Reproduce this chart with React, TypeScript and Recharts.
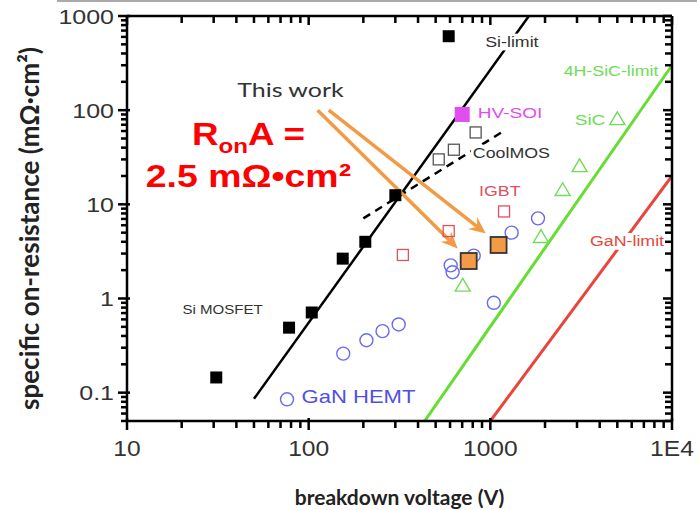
import React from 'react';
import { ScatterChart, Scatter, XAxis, YAxis, ReferenceLine, ReferenceDot } from 'recharts';

// ---------- data (breakdown voltage V, specific on-resistance mOhm·cm²) ----------
const siMosfet = [
  { v: 31, r: 0.145 }, { v: 78, r: 0.49 }, { v: 104, r: 0.71 }, { v: 154, r: 2.65 },
  { v: 205, r: 4.0 }, { v: 300, r: 12.5 }, { v: 590, r: 610 },
];
const hvSoi = [{ v: 700, r: 90 }];
const coolMos = [{ v: 520, r: 30 }, { v: 630, r: 38 }, { v: 830, r: 58 }];
const igbt = [{ v: 330, r: 2.9 }, { v: 590, r: 5.2 }, { v: 1190, r: 8.4 }];
const ganHemt = [
  { v: 76, r: 0.085 }, { v: 155, r: 0.26 }, { v: 208, r: 0.36 }, { v: 255, r: 0.45 },
  { v: 313, r: 0.53 }, { v: 605, r: 2.25 }, { v: 620, r: 1.9 }, { v: 810, r: 2.85 },
  { v: 1045, r: 0.9 }, { v: 1310, r: 5.0 }, { v: 1830, r: 7.1 },
];
const sic = [{ v: 705, r: 1.4 }, { v: 1900, r: 4.6 }, { v: 2500, r: 14.5 }, { v: 3100, r: 26 }];
const sicKeyMarker = [{ v: 5000, r: 82 }];
const thisWork = [{ v: 760, r: 2.5 }, { v: 1110, r: 3.7 }];

const siLimit = [{ v: 50, r: 0.086 }, { v: 1630, r: 1000 }];
const sicLimit = [{ v: 435, r: 0.05 }, { v: 10000, r: 300 }];
const ganLimit = [{ v: 1000, r: 0.05 }, { v: 10000, r: 20 }];
const coolMosTrend = [{ v: 200, r: 7.1 }, { v: 1200, r: 61 }];
const arrowStarts = [{ v: 112, r: 100 }, { v: 129, r: 100 }];
const arrowEnds = [{ v: 662, r: 3.4 }, { v: 944, r: 4.9 }];

const xDomain = [10, 10000];
const yDomain = [0.05, 1000];
const xTicks = [10, 20, 30, 40, 50, 60, 70, 80, 90, 100, 200, 300, 400, 500, 600, 700, 800, 900,
  1000, 2000, 3000, 4000, 5000, 6000, 7000, 8000, 9000, 10000];
const yTicks = [0.05, 0.06, 0.07, 0.08, 0.09, 0.1, 0.2, 0.3, 0.4, 0.5, 0.6, 0.7, 0.8, 0.9,
  1, 2, 3, 4, 5, 6, 7, 8, 9, 10, 20, 30, 40, 50, 60, 70, 80, 90,
  100, 200, 300, 400, 500, 600, 700, 800, 900, 1000];
const xTickLabels: Record<string, string> = { '10': '10', '100': '100', '1000': '1000', '10000': '1E4' };
const yTickLabels: Record<string, string> = { '0.1': '0.1', '1': '1', '10': '10', '100': '100', '1000': '1000' };

const ARIAL = '"Liberation Sans", Arial, sans-serif';
const CALIBRI = 'Lato, "Open Sans", sans-serif';
const isMajor = (v: number) => Math.abs(Math.log10(v) - Math.round(Math.log10(v))) < 1e-9;

const BottomTick = (p: any) => {
  const v = p.payload.value;
  const m = isMajor(v);
  const lab = xTickLabels[String(v)];
  return (
    <g>
      <rect x={p.x - 1.25} y={p.y - (m ? 3 : 0)} width={2.5} height={m ? 12 : 7} fill="#000" />
      {lab && (
        <text transform={`translate(${p.x},${p.y + 27}) scale(1.12,1)`} textAnchor="middle" dominantBaseline="central"
          fontFamily={ARIAL} fontSize={22} fill="#333">{lab}</text>
      )}
    </g>
  );
};
const TopTick = (p: any) => {
  const m = isMajor(p.payload.value);
  return <rect x={p.x - 1.25} y={p.y} width={2.5} height={m ? 9 : 7} fill="#000" />;
};
const LeftTick = (p: any) => {
  const v = p.payload.value;
  const m = isMajor(v);
  const lab = yTickLabels[String(v)];
  return (
    <g>
      <rect x={p.x - (m ? 9 : 6)} y={p.y - 1.25} width={m ? 12 : 6} height={2.5} fill="#000" />
      {lab && (
        <text transform={`translate(${p.x - 13},${p.y + 1}) scale(1.25,1)`} textAnchor="end" dominantBaseline="central"
          fontFamily={ARIAL} fontSize={20} fill="#333">{lab}</text>
      )}
    </g>
  );
};
const RightTick = (p: any) => {
  const m = isMajor(p.payload.value);
  return <rect x={p.x - (m ? 9 : 7)} y={p.y - 1.25} width={m ? 9 : 7} height={2.5} fill="#000" />;
};

const square = (size: number, fill: string, stroke = 'none', sw = 1.5) => (p: any) =>
  <rect x={p.cx - size / 2} y={p.cy - size / 2} width={size} height={size} fill={fill} stroke={stroke} strokeWidth={sw} />;
const circle = (r: number, stroke: string) => (p: any) =>
  <circle cx={p.cx} cy={p.cy} r={r} fill="none" stroke={stroke} strokeWidth={1.4} />;
const triangle = (w: number, stroke: string) => (p: any) => {
  const h = w * 0.85;
  return <polygon points={`${p.cx},${p.cy - h / 2} ${p.cx - w / 2},${p.cy + h / 2} ${p.cx + w / 2},${p.cy + h / 2}`}
    fill="none" stroke={stroke} strokeWidth={1.4} />;
};

const label = (text: string, color: string, size: number, anchor: 'start' | 'middle' | 'end' = 'middle',
  bg = false, font = ARIAL, sx = 1.27) => (p: any) => {
  const w = text.length * size * 0.52 * sx;
  const x0 = anchor === 'middle' ? p.cx - w / 2 : anchor === 'start' ? p.cx : p.cx - w;
  return (
    <g>
      {bg && <rect x={x0 - 2} y={p.cy - size * 0.6} width={w + 4} height={size * 1.2} fill="#fff" />}
      <text transform={`translate(${p.cx},${p.cy}) scale(${sx},1)`} textAnchor={anchor} dominantBaseline="central"
        fontFamily={font} fontSize={size} fill={color}>{text}</text>
    </g>
  );
};

const ORANGE = '#f39a45';
const Arrow = (p: any) => {
  const { x1, y1, x2, y2 } = p;
  const ang = Math.atan2(y2 - y1, x2 - x1);
  const L = 17, W = 7.5, N = 11;
  const c = Math.cos(ang), s = Math.sin(ang);
  const bx = x2 - L * c, by = y2 - L * s;
  const nx = x2 - N * c, ny = y2 - N * s;
  const px = -s * W, py = c * W;
  return (
    <g>
      <line x1={x1} y1={y1} x2={nx} y2={ny} stroke={ORANGE} strokeWidth={3.5} />
      <polygon points={`${x2},${y2} ${bx + px},${by + py} ${nx},${ny} ${bx - px},${by - py}`} fill={ORANGE} />
    </g>
  );
};

const BigText1 = (p: any) => (
  <text transform={`translate(${p.cx},${p.cy}) scale(1.15,1)`} textAnchor="middle" fontFamily={ARIAL}
    fontWeight="bold" fontSize={32} fill="#ff0000">
    <tspan>R</tspan><tspan fontSize={21} dy={8}>on</tspan><tspan dy={-8}>A =</tspan>
  </text>
);
const BigText2 = (p: any) => (
  <text transform={`translate(${p.cx},${p.cy}) scale(1.17,1)`} textAnchor="middle" fontFamily={ARIAL}
    fontWeight="bold" fontSize={32} fill="#ff0000">
    2.5 mΩ•cm²
  </text>
);

const XTitle = (p: any) => {
  const vb = p.viewBox;
  return (
    <text x={vb.x + vb.width / 2} y={vb.y + 75} textAnchor="middle" dominantBaseline="central"
      fontFamily={CALIBRI} fontWeight="bold" fontSize={21} fill="#222">breakdown voltage (V)</text>
  );
};
const YTitle = (p: any) => {
  const vb = p.viewBox;
  const cx = 29, cy = vb.y + vb.height / 2 + 10;
  return (
    <text x={cx} y={cy} transform={`rotate(-90 ${cx} ${cy})`} textAnchor="middle" dominantBaseline="central"
      fontFamily={CALIBRI} fontWeight="bold" fontSize={26} fill="#222">specific on-resistance (mΩ·cm²)</text>
  );
};

const axisLine = { stroke: '#000', strokeWidth: 2.5 };

export default function App() {
  return (
    <div style={{ position: 'absolute', left: 0, top: 0, width: 697, height: 510, background: '#fff' }}>
      <div style={{ position: 'absolute', left: 57, top: 0, width: 640, height: 2, background: '#aaa' }} />
      <ScatterChart width={697} height={510} margin={{ top: 0, right: 0, bottom: 0, left: 0 }}>
        <XAxis xAxisId={0} dataKey="v" type="number" scale="log" domain={xDomain} allowDataOverflow
          ticks={xTicks} interval={0} tickSize={0} tickMargin={0} tick={BottomTick} tickLine={false}
          axisLine={axisLine} height={89} orientation="bottom" label={<XTitle />} />
        <XAxis xAxisId="top" dataKey="v" type="number" scale="log" domain={xDomain} allowDataOverflow
          ticks={xTicks} interval={0} tickSize={0} tickMargin={0} tick={TopTick} tickLine={false}
          axisLine={axisLine} height={16} orientation="top" />
        <YAxis yAxisId={0} dataKey="r" type="number" scale="log" domain={yDomain} allowDataOverflow
          ticks={yTicks} interval={0} tickSize={0} tickMargin={0} tick={LeftTick} tickLine={false}
          axisLine={axisLine} width={127} orientation="left" label={<YTitle />} />
        <YAxis yAxisId="right" dataKey="r" type="number" scale="log" domain={yDomain} allowDataOverflow
          ticks={yTicks} interval={0} tickSize={0} tickMargin={0} tick={RightTick} tickLine={false}
          axisLine={axisLine} width={25} orientation="right" />

        <ReferenceLine segment={[siLimit[0], siLimit[1]].map((d) => ({ x: d.v, y: d.r }))}
          stroke="#000" strokeWidth={2.5} ifOverflow="hidden" />
        <ReferenceLine segment={[sicLimit[0], sicLimit[1]].map((d) => ({ x: d.v, y: d.r }))}
          stroke="#66dd33" strokeWidth={3} ifOverflow="hidden" />
        <ReferenceLine segment={[ganLimit[0], ganLimit[1]].map((d) => ({ x: d.v, y: d.r }))}
          stroke="#e8453c" strokeWidth={3} ifOverflow="hidden" />
        <ReferenceLine segment={[coolMosTrend[0], coolMosTrend[1]].map((d) => ({ x: d.v, y: d.r }))}
          stroke="#000" strokeWidth={2.5} strokeDasharray="8 6" ifOverflow="hidden" />

        <Scatter data={ganHemt} dataKey="r" shape={circle(6.5, '#6b6bf0')} isAnimationActive={false} />
        <Scatter data={sic} dataKey="r" shape={triangle(15, '#6fdc55')} isAnimationActive={false} />
        <Scatter data={sicKeyMarker} dataKey="r" shape={triangle(15, '#6fdc55')} isAnimationActive={false} />
        <Scatter data={igbt} dataKey="r" shape={square(11, 'none', '#e0505f', 1.3)} isAnimationActive={false} />
        <Scatter data={coolMos} dataKey="r" shape={square(11, 'none', '#555', 1.3)} isAnimationActive={false} />
        <Scatter data={siMosfet} dataKey="r" shape={square(12, '#000')} isAnimationActive={false} />
        <Scatter data={hvSoi} dataKey="r" shape={square(15, '#e14ef0')} isAnimationActive={false} />
        <Scatter data={thisWork} dataKey="r" shape={square(16, ORANGE, '#333', 1.8)} isAnimationActive={false} />

        {arrowStarts.map((s, i) => (
          <ReferenceLine key={`ar${i}`} segment={[{ x: s.v, y: s.r }, { x: arrowEnds[i].v, y: arrowEnds[i].r }]}
            shape={Arrow} ifOverflow="visible" />
        ))}

        <ReferenceDot x={1314} y={529} r={0} shape={label('Si-limit', '#333', 14, 'middle', true)} />
        <ReferenceDot x={4617} y={260} r={0} shape={label('4H-SiC-limit', '#6fdc55', 14)} />
        <ReferenceDot x={3538} y={80} r={0} shape={label('SiC', '#6fdc55', 15)} />
        <ReferenceDot x={853} y={93} r={0} shape={label('HV-SOI', '#e14ef0', 15, 'start')} />
        <ReferenceDot x={801} y={35} r={0} shape={label('CoolMOS', '#333', 14, 'start', true)} />
        <ReferenceDot x={1128} y={13.7} r={0} shape={label('IGBT', '#e0505f', 14)} />
        <ReferenceDot x={5654} y={4.04} r={0} shape={label('GaN-limit', '#e8453c', 14, 'middle', true)} />
        <ReferenceDot x={20.2} y={0.764} r={0} shape={label('Si MOSFET', '#333', 13, 'start', false, ARIAL, 1.16)} />
        <ReferenceDot x={188} y={0.093} r={0} shape={label('GaN HEMT', '#5050e0', 19, 'middle', false, ARIAL, 1.16)} />
        <ReferenceDot x={79.4} y={167} r={0} shape={label('This work', '#333', 20, 'middle', false, CALIBRI, 1.25)} />
        <ReferenceDot x={46.6} y={42.4} r={0} shape={BigText1} />
        <ReferenceDot x={46.6} y={15.2} r={0} shape={BigText2} />
      </ScatterChart>
    </div>
  );
}
